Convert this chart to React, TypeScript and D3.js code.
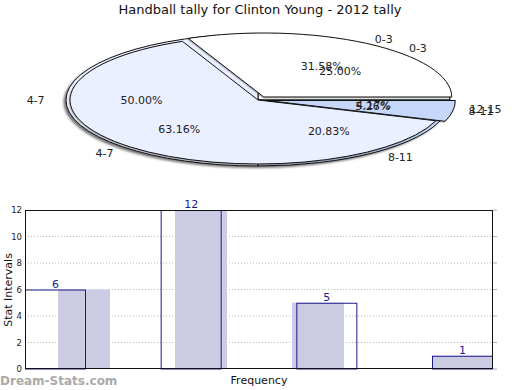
import React from "react";
import * as d3 from "d3";

const categoriesA = ["0-3", "4-7", "8-11"];
const valuesA = [6, 12, 1];
const categoriesB = ["0-3", "4-7", "8-11", "12-15"];
const valuesB = [6, 12, 5, 1];

const barCategories = ["0-3", "4-7", "8-11", "12-15"];
const barValues = [6, 12, 5, 1];
const yTicks = [0, 2, 4, 6, 8, 10, 12];

const W = 520, H = 390;
const FONT = "DejaVu Sans, sans-serif";

const sliceColors = ["#ffffff", "#eaf0ff", "#c6d7fb", "#c6d7fb"];

type Slice = { start: number; end: number; label: string; value: number; idx: number; pct: number };

function makeSlices(cats: string[], vals: number[]): Slice[] {
  const total = d3.sum(vals);
  const arcs = d3.pie<number>().sort(null).startAngle(0).endAngle(2 * Math.PI)(vals);
  return arcs.map((a, i) => ({ start: a.startAngle, end: a.endAngle, label: cats[i], value: vals[i], idx: i, pct: (vals[i] / total) * 100 }));
}

function ellipseSlicePath(cx: number, cy: number, rx: number, ry: number, t0: number, t1: number) {
  const x0 = cx + rx * Math.cos(t0), y0 = cy - ry * Math.sin(t0);
  const x1 = cx + rx * Math.cos(t1), y1 = cy - ry * Math.sin(t1);
  const large = t1 - t0 > Math.PI ? 1 : 0;
  if (t1 - t0 >= 2 * Math.PI - 1e-6) {
    return `M${cx - rx},${cy} A${rx},${ry} 0 1 0 ${cx + rx},${cy} A${rx},${ry} 0 1 0 ${cx - rx},${cy} Z`;
  }
  return `M${cx},${cy} L${x0},${y0} A${rx},${ry} 0 ${large} 0 ${x1},${y1} Z`;
}

export default function App() {
  const cx = 258, cy = 100;
  const rxB = 192, ryB = 66;
  const rxA = 188, ryA = 64;
  const rxL = 194, ryL = 66;
  const explodeA = [0.056, 0, 0.05];

  const slicesA = makeSlices(categoriesA, valuesA);
  const slicesB = makeSlices(categoriesB, valuesB);

  const left = 25, right = 493, top = 210, bottom = 369;
  const y = d3.scaleLinear().domain([0, 12]).range([bottom, top]);
  const outlineW = 61;
  const xOutline = d3.scalePoint<string>().domain(barCategories).range([left, right - outlineW]);
  const xFillBand = d3.scaleBand<string>().domain(barCategories).range([left, right]);
  const fillOffset = 33, fillW = 52;

  const fmt = (v: number) => v.toFixed(2) + "%";

  const labelEls = (slices: Slice[], keyPrefix: string) =>
    slices.map((s) => {
      const mid = (s.start + s.end) / 2;
      const c = Math.cos(mid), sn = Math.sin(mid);
      const px = cx + 0.6 * rxL * c, py = cy - 0.6 * ryL * sn;
      const lx = cx + 1.1 * rxL * c, ly = cy - 1.1 * ryL * sn;
      return (
        <g key={keyPrefix + s.idx}>
          <text x={px} y={py} textAnchor="middle" dominantBaseline="central" fontSize={11} fontFamily={FONT} fill="#222">{fmt(s.pct)}</text>
          <text x={lx} y={ly} textAnchor={c >= 0 ? "start" : "end"} dominantBaseline="central" fontSize={11} fontFamily={FONT} fill="#222">{s.label}</text>
        </g>
      );
    });

  return (
    <svg width={W} height={H} style={{ position: "absolute", left: 0, top: 0, background: "#fff" }}>
      <defs>
        <filter id="sh" x="-20%" y="-20%" width="140%" height="140%">
          <feGaussianBlur stdDeviation="1.2" />
        </filter>
        <filter id="ds" x="-20%" y="-20%" width="140%" height="140%">
          <feDropShadow dx="-0.6" dy="0.8" stdDeviation="0.5" floodColor="#000" floodOpacity="0.3" />
        </filter>
      </defs>
      <rect width={W} height={H} fill="#fff" />
      <text x={260} y={14} textAnchor="middle" fontSize={13} fontFamily={FONT} fill="#111">Handball tally for Clinton Young - 2012 tally</text>

      <ellipse cx={cx - 2.5} cy={cy + 2} rx={rxB} ry={ryB} fill="#777" filter="url(#sh)" />

      <g>
        {slicesB.map((s) => (
          <path key={"b" + s.idx} d={ellipseSlicePath(cx, cy, rxB, ryB, s.start, s.end)} fill={sliceColors[s.idx]} stroke="#111" strokeWidth={1} strokeLinejoin="round" />
        ))}
      </g>
      <g filter="url(#ds)">
        {slicesA.map((s) => {
          const mid = (s.start + s.end) / 2;
          const e = explodeA[s.idx];
          const ox = cx + e * rxA * Math.cos(mid);
          const oy = cy - e * ryA * Math.sin(mid);
          return (
            <path key={"a" + s.idx} d={ellipseSlicePath(ox, oy, rxA, ryA, s.start, s.end)} fill={sliceColors[s.idx]} stroke="#111" strokeWidth={1} strokeLinejoin="round" />
          );
        })}
      </g>
      {labelEls(slicesA, "la")}
      {labelEls(slicesB, "lb")}

      <rect x={left} y={top} width={right - left} height={bottom - top} fill="#fff" />
      {yTicks.filter((t) => t > 0 && t < 12).map((t) => (
        <line key={"g" + t} x1={left} x2={right} y1={y(t)} y2={y(t)} stroke="#bbb" strokeWidth={1} strokeDasharray="1 2" />
      ))}
      {barValues.map((v, i) => {
        const cat = barCategories[i];
        const isLast = i === barValues.length - 1;
        let x = (xFillBand(cat) as number) + fillOffset;
        let w = fillW;
        if (isLast) {
          x = xOutline(cat) as number;
          w = right - x;
        }
        return <rect key={"f" + i} x={x} y={y(v)} width={w} height={bottom - y(v)} fill="#cbcbe4" />;
      })}
      {barValues.map((v, i) => {
        const x = xOutline(barCategories[i]) as number;
        return (
          <g key={"o" + i}>
            <rect x={x + 0.5} y={y(v) + 0.5} width={outlineW - 1} height={bottom - y(v) - 0.5} fill="none" stroke="#1a1a8a" strokeWidth={1} />
            <text x={x + outlineW / 2} y={y(v) - 2} textAnchor="middle" fontSize={11} fontFamily={FONT} fill="#1a1a8a">{v}</text>
          </g>
        );
      })}
      <rect x={left + 0.5} y={top + 0.5} width={right - left - 1} height={bottom - top - 1} fill="none" stroke="#111" strokeWidth={1} />
      {yTicks.map((t) => (
        <g key={"t" + t}>
          <text x={22} y={y(t)} textAnchor="end" dominantBaseline="central" fontSize={8.5} fontFamily={FONT} fill="#222">{t}</text>
          <line x1={right} x2={right + 4} y1={y(t)} y2={y(t)} stroke="#aaa" strokeWidth={1} />
        </g>
      ))}
      <text transform={`translate(8,290) rotate(-90)`} textAnchor="middle" dominantBaseline="central" fontSize={11} fontFamily={FONT} fill="#111">Stat Intervals</text>
      <text x={259} y={384} textAnchor="middle" fontSize={11} fontFamily={FONT} fill="#111">Frequency</text>
      <text x={0} y={385} fontSize={12} fontWeight="bold" fontFamily={FONT} fill="#aaa">Dream-Stats.com</text>
    </svg>
  );
}
